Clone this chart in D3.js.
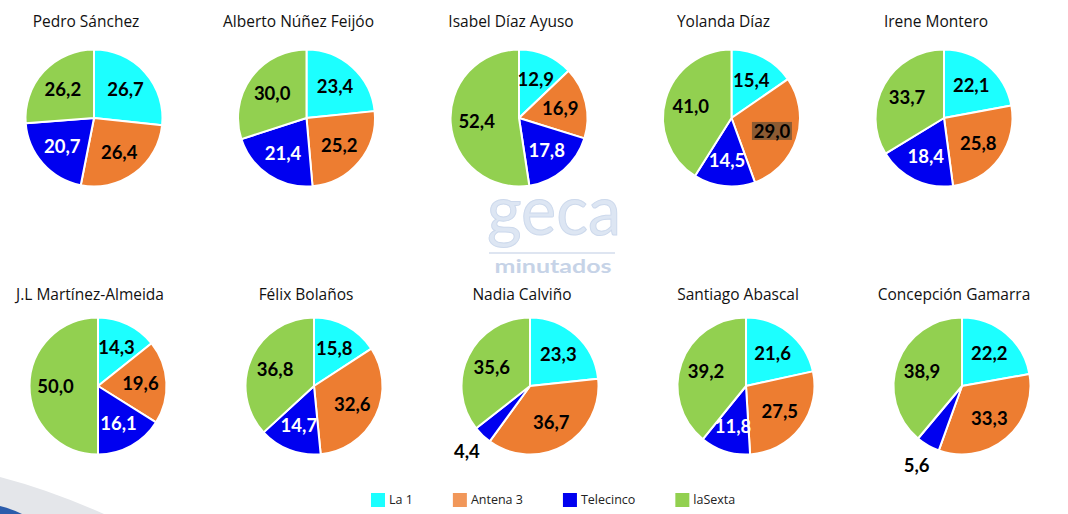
<!DOCTYPE html>
<html>
<head>
<meta charset="utf-8">
<script src="https://cdn.jsdelivr.net/npm/d3@7/dist/d3.min.js"></script>
<style>
  body { margin: 0; background: #fff; }
  svg { display: block; }
</style>
</head>
<body>
<div id="chart"></div>
<script>
// people shown, in reading order (two rows of five)
const people = ["Pedro Sánchez", "Alberto Núñez Feijóo", "Isabel Díaz Ayuso", "Yolanda Díaz", "Irene Montero",
                "J.L Martínez-Almeida", "Félix Bolaños", "Nadia Calviño", "Santiago Abascal", "Concepción Gamarra"];
const channels = ["La 1", "Antena 3", "Telecinco", "laSexta"];
// share of minutes (%) per channel, same order as people
const la1       = [26.7, 23.4, 12.9, 15.4, 22.1, 14.3, 15.8, 23.3, 21.6, 22.2];
const antena3   = [26.4, 25.2, 16.9, 29.0, 25.8, 19.6, 32.6, 36.7, 27.5, 33.3];
const telecinco = [20.7, 21.4, 17.8, 14.5, 18.4, 16.1, 14.7,  4.4, 11.8,  5.6];
const laSexta   = [26.2, 30.0, 52.4, 41.0, 33.7, 50.0, 36.8, 35.6, 39.2, 38.9];

const width = 1068, height = 514;
const radius = 68.5;

const color = d3.scaleOrdinal().domain(channels).range(["#1cffff", "#ed7d31", "#0000f0", "#92d050"]);
const labelColor = d3.scaleOrdinal().domain(channels).range(["#000", "#000", "#fff", "#000"]);

// column / row positions
const rowY = d3.scalePoint().domain([0, 1]).range([118, 386]);
const colX = [
  d3.scalePoint().domain(d3.range(5)).range([94, 944]),
  d3.scalePoint().domain(d3.range(5)).range([98, 962])
];

const fmt = v => v.toFixed(1).replace(".", ",");

const svg = d3.select("#chart").append("svg")
  .attr("width", width)
  .attr("height", height);

svg.append("rect").attr("width", width).attr("height", height).attr("fill", "#fff");

// corner decoration, bottom left
svg.append("path").attr("d", "M0,477 Q50,490 104,514 L0,514 Z").attr("fill", "#e4e6ea");
svg.append("path").attr("d", "M0,506 Q12,509 22,514 L0,514 Z").attr("fill", "#2b5cab");

// watermark
let wm = svg.append("g").attr("class", "watermark");
wm.append("text")
  .attr("x", 554).attr("y", 235)
  .attr("text-anchor", "middle")
  .attr("font-family", "Lato, sans-serif")
  .attr("font-weight", 400)
  .attr("font-size", 70)
  .attr("textLength", 134).attr("lengthAdjust", "spacingAndGlyphs")
  .attr("fill", "#dde6f3")
  .attr("stroke", "#cdd9ec").attr("stroke-width", 1)
  .text("geca");
wm.append("line")
  .attr("x1", 489).attr("x2", 615).attr("y1", 253).attr("y2", 253)
  .attr("stroke", "#d3ddec").attr("stroke-width", 1.5);
wm.append("text")
  .attr("x", 553).attr("y", 273)
  .attr("text-anchor", "middle")
  .attr("font-family", "Lato, sans-serif")
  .attr("font-weight", 700)
  .attr("font-size", 19)
  .attr("textLength", 117).attr("lengthAdjust", "spacingAndGlyphs")
  .attr("fill", "#c6d3e7")
  .text("minutados");

const pie = d3.pie().sort(null).value(d => d.value);
const arc = d3.arc().innerRadius(0).outerRadius(radius);
const labelArc = d3.arc().innerRadius(radius * 0.62).outerRadius(radius * 0.62);
const outerArc = d3.arc().innerRadius(radius * 1.33).outerRadius(radius * 1.33);

people.forEach((name, i) => {
  let row = Math.floor(i / 5), col = i % 5;
  let cx = colX[row](col), cy = rowY(row);
  let values = [la1[i], antena3[i], telecinco[i], laSexta[i]].map((v, k) => ({channel: channels[k], value: v}));

  let g = svg.append("g").attr("transform", "translate(" + cx + "," + cy + ")");

  // title
  g.append("text")
    .attr("x", -8).attr("y", -radius - 23 + (row ? 5 : 0))
    .attr("text-anchor", "middle")
    .attr("font-family", "'Open Sans', sans-serif")
    .attr("font-weight", 400)
    .attr("font-size", 15.5)
    .attr("fill", "#111")
    .text(name);

  let arcs = pie(values);

  g.selectAll("path").data(arcs).enter().append("path")
    .attr("d", arc)
    .attr("fill", d => color(d.data.channel))
    .attr("stroke", "#fff")
    .attr("stroke-width", 2)
    .attr("stroke-linejoin", "round");

  arcs.forEach(d => {
    let small = d.data.value < 8;
    let pos = small ? outerArc.centroid(d) : labelArc.centroid(d);
    // the one label that carries a shaded box in the original
    if (name === "Yolanda Díaz" && d.data.channel === "Antena 3") {
      g.append("rect")
        .attr("x", pos[0] - 20).attr("y", pos[1] - 9)
        .attr("width", 40).attr("height", 18)
        .attr("fill", "#8c5b33");
    }
    g.append("text")
      .attr("x", pos[0]).attr("y", pos[1])
      .attr("dy", "0.36em")
      .attr("text-anchor", "middle")
      .attr("font-family", "Lato, sans-serif")
      .attr("font-weight", 700)
      .attr("font-size", 18.5)
      .attr("fill", small ? "#000" : labelColor(d.data.channel))
      .text(fmt(d.data.value));
  });
});

// legend
let legend = svg.append("g").attr("transform", "translate(371,500)");
let lx = 0;
channels.forEach(c => {
  let item = legend.append("g").attr("transform", "translate(" + lx + ",0)");
  item.append("rect")
    .attr("x", 0).attr("y", -7).attr("width", 14).attr("height", 14)
    .attr("fill", color(c))
    .attr("opacity", c === "Antena 3" ? 0.8 : 1);
  let t = item.append("text")
    .attr("x", 18).attr("y", 0).attr("dy", "0.35em")
    .attr("font-family", "'Open Sans', sans-serif")
    .attr("font-size", 12.5)
    .attr("fill", "#222")
    .text(c);
  lx += 18 + t.node().getComputedTextLength() + 40;
});
</script>
</body>
</html>
